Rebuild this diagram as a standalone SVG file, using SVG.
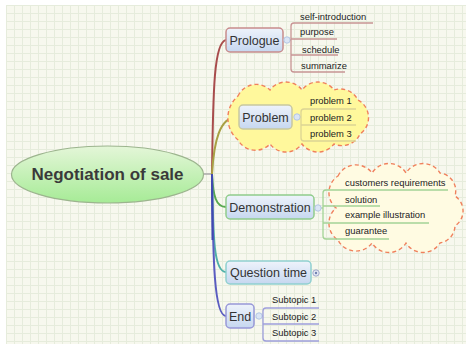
<svg xmlns="http://www.w3.org/2000/svg" width="466" height="347" viewBox="0 0 466 347">
<defs>
<pattern id="grid" x="6" y="5" width="8" height="8" patternUnits="userSpaceOnUse">
<path d="M0,0.5 H8 M0.5,0 V8" fill="none" stroke="#e6ecdc" stroke-width="1"/>
</pattern>
<linearGradient id="nodeG" x1="0" y1="0" x2="0" y2="1">
<stop offset="0" stop-color="#eef3fb"/>
<stop offset="1" stop-color="#c6d7f0"/>
</linearGradient>
<linearGradient id="centG" x1="0" y1="0" x2="0" y2="1">
<stop offset="0" stop-color="#e4f6d8"/>
<stop offset="1" stop-color="#a6eb96"/>
</linearGradient>
<style>
.node{fill:url(#nodeG);stroke-width:1.5}
.nt{font-family:"Liberation Sans",Arial,sans-serif;font-size:12.5px;fill:#333;text-anchor:middle}
.st{font-family:"Liberation Sans",Arial,sans-serif;font-size:9.4px;fill:#222}
.con{fill:none;stroke-width:2}
.br{fill:none;stroke-width:1.3}
.cloud{stroke:#f0805c;stroke-width:1.4;stroke-dasharray:4 3}
.tog{fill:#dae5f5;stroke:#b4c6e4;stroke-width:1}
</style>
</defs>
<rect width="466" height="347" fill="#ffffff"/>
<rect x="6" y="5" width="460" height="339" fill="#f7f8ee"/>
<rect x="6" y="5" width="460" height="339" fill="url(#grid)"/>

<g id="connectors">
<line x1="203" y1="174" x2="212" y2="174" stroke="#a8a8a8" stroke-width="1.5"/>
<path class="con" stroke="#a84c4c" d="M212,174 C213,90 214,42 226,40"/>
<path class="con" stroke="#a8a044" d="M212,174 C214,140 220,118 236,117"/>
<path class="con" stroke="#58a850" d="M212,174 C213,196 216,207 226,207"/>
<path class="con" stroke="#50b0a8" d="M212,174 C213,240 214,272 226,272"/>
<path class="con" stroke="#5a5cc0" d="M212,174 C213,260 214,316 226,316"/>
<path class="con" stroke="#4048b0" d="M212,174 L212.5,240"/>
</g>

<g id="problem-cloud">
<path class="cloud" fill="#fff89c" d="M238,96 A20,20 0 0 1 270,90 A20,20 0 0 1 302,90 A20,20 0 0 1 334,90 A20,20 0 0 1 358,100 A20,20 0 0 1 360,134 A20,20 0 0 1 334,144 A20,20 0 0 1 302,144 A20,20 0 0 1 270,144 A20,20 0 0 1 238,140 A29,29 0 0 1 238,96 Z"/>
</g>
<g id="demo-cloud">
<path class="cloud" fill="#fffbe2" d="M338,176 A20,20 0 0 1 372,173 A20,20 0 0 1 406,173 A20,20 0 0 1 440,173 A18,18 0 0 1 455,196 A18,18 0 0 1 455,226 A18,18 0 0 1 440,243 A20,20 0 0 1 406,243 A20,20 0 0 1 372,243 A20,20 0 0 1 338,240 A20,20 0 0 1 336,208 A20,20 0 0 1 338,176 Z"/>
</g>

<g id="central">
<ellipse cx="107.5" cy="174.5" rx="96" ry="28.5" fill="url(#centG)" stroke="#9cb48e" stroke-width="1.2"/>
<text x="107.5" y="179.5" font-family="'Liberation Sans',Arial,sans-serif" font-size="17" font-weight="bold" fill="#3a3a3a" text-anchor="middle">Negotiation of sale</text>
</g>

<g id="prologue">
<rect class="node" x="226" y="28" width="57" height="24" rx="4" stroke="#c88c8c"/>
<text class="nt" x="254.5" y="44.5">Prologue</text>
<line x1="287" y1="40" x2="291" y2="40" stroke="#c89090" stroke-width="1.2"/>
<circle class="tog" cx="287" cy="40" r="3.2"/>
<path class="br" stroke="#c89494" d="M373,23 H294 Q291,23 291,26 V69 Q291,72 294,72 H345 M291,39 H337 M291,55 H338"/>
<text class="st" x="300" y="19.5">self-introduction</text>
<text class="st" x="300" y="35">purpose</text>
<text class="st" x="302" y="52.5">schedule</text>
<text class="st" x="301" y="68.5">summarize</text>
</g>

<g id="problem">
<rect class="node" x="239" y="105" width="53" height="24" rx="4" stroke="#c8c8a0"/>
<text class="nt" x="265.5" y="121.5">Problem</text>
<line x1="297" y1="117" x2="301" y2="117" stroke="#dcd494" stroke-width="1.2"/>
<circle class="tog" cx="297" cy="117" r="3.2"/>
<path class="br" stroke="#dcd494" d="M356,109 H304 Q301,109 301,112 V138 Q301,141 304,141 H356 M301,125 H356"/>
<text class="st" x="310" y="104.3">problem 1</text>
<text class="st" x="310" y="120.5">problem 2</text>
<text class="st" x="310" y="136.5">problem 3</text>
</g>

<g id="demonstration">
<rect class="node" x="226" y="195" width="88" height="24" rx="4" stroke="#90cc8c"/>
<text class="nt" x="270" y="212.3">Demonstration</text>
<line x1="318" y1="208" x2="323" y2="208" stroke="#a0d094" stroke-width="1.2"/>
<circle class="tog" cx="318" cy="208" r="3.2"/>
<path class="br" stroke="#a4d496" d="M448,190 H326 Q323,190 323,193 V236 Q323,239 326,239 H389 M323,206 H380 M323,223 H429"/>
<text class="st" x="345" y="185.5">customers requirements</text>
<text class="st" x="345" y="202.5">solution</text>
<text class="st" x="345" y="218.3">example illustration</text>
<text class="st" x="345" y="234.3">guarantee</text>
</g>

<g id="question-time">
<rect class="node" x="226" y="261" width="85" height="23" rx="4" stroke="#90d0d0"/>
<text class="nt" x="268.5" y="276.7">Question time</text>
<circle cx="316" cy="273" r="3.2" fill="#e4e8f4" stroke="#a0a8cc" stroke-width="1"/>
<circle cx="316" cy="273" r="1.2" fill="#7080b0"/>
</g>

<g id="end">
<rect class="node" x="226" y="304" width="28" height="24" rx="4" stroke="#9898d8"/>
<text class="nt" x="240" y="321">End</text>
<line x1="259" y1="316" x2="263" y2="316" stroke="#a0a0dc" stroke-width="1.2"/>
<circle class="tog" cx="259" cy="316" r="3.2"/>
<path class="br" stroke="#9e9edc" d="M319,308 H266 Q263,308 263,311 V338 Q263,341 266,341 H319 M263,324 H319"/>
<text class="st" x="272" y="303">Subtopic 1</text>
<text class="st" x="272" y="319.5">Subtopic 2</text>
<text class="st" x="272" y="336">Subtopic 3</text>
</g>
</svg>
